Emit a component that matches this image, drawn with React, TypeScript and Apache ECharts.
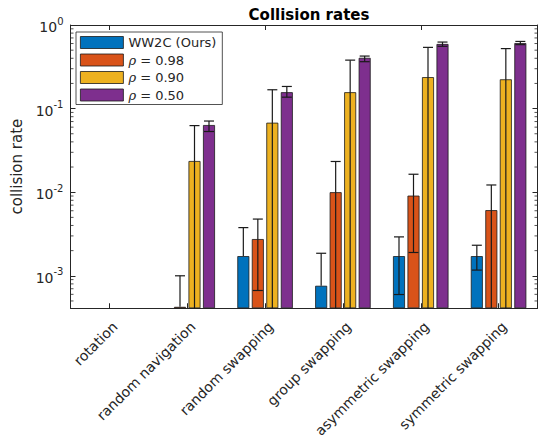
import React, { useEffect, useRef } from 'react';
import * as echarts from 'echarts';

// ---------- data ----------
const categories = [
  'rotation',
  'random navigation',
  'random swapping',
  'group swapping',
  'asymmetric swapping',
  'symmetric swapping',
];

const seriesNames = ['WW2C (Ours)', 'ρ = 0.98', 'ρ = 0.90', 'ρ = 0.50'];

// mean collision rates (null = no bar)
const ww2cMean = [null, null, 1.72e-3, 7.6e-4, 1.72e-3, 1.72e-3];
const rho98Mean = [null, 4.25e-4, 2.75e-3, 0.01, 9.1e-3, 6.1e-3];
const rho90Mean = [null, 0.0236, 0.0678, 0.157, 0.238, 0.224];
const rho50Mean = [null, 0.0636, 0.157, 0.405, 0.593, 0.608];

// error bar upper ends
const ww2cUpper = [null, null, 3.77e-3, 1.86e-3, 2.92e-3, 2.32e-3];
const rho98Upper = [null, 1.0e-3, 4.77e-3, 0.0233, 0.0164, 0.0122];
const rho90Upper = [null, 0.0626, 0.168, 0.38, 0.54, 0.522];
const rho50Upper = [null, 0.071, 0.184, 0.425, 0.625, 0.636];

// error bar lower ends (null = not drawn, values below the axis run off the bottom)
const ww2cLower = [null, null, null, null, 5.97e-4, 1.17e-3];
const rho98Lower = [null, null, 6.67e-4, 1e-4, 1.9e-3, 1e-4];
const rho90Lower = [null, 1e-4, 1e-4, 1e-4, 1e-4, 1e-4];
const rho50Lower = [null, 0.0532, 0.137, 0.364, 0.556, 0.582];

const yTickValues = [1e-3, 1e-2, 1e-1, 1];

// ---------- styling ----------
const COLORS = ['#0072BD', '#D95319', '#EDB120', '#7E2F8E'];
const AXIS_COLOR = '#262626';
const FONT = 'DejaVu Sans';
const Y_MIN = 4.09e-4;
const Y_MAX = 1;
const BAR_W = 12;
const BAR_GAP_PX = 2.5;
const CAP = 5;

const means = [ww2cMean, rho98Mean, rho90Mean, rho50Mean];
const uppers = [ww2cUpper, rho98Upper, rho90Upper, rho50Upper];
const lowers = [ww2cLower, rho98Lower, rho90Lower, rho50Lower];

function minorTicks(): number[] {
  const out: number[] = [];
  for (let k = -4; k <= -1; k++) {
    for (let m = 2; m <= 9; m++) {
      const v = m * Math.pow(10, k);
      if (v > Y_MIN && v < Y_MAX) out.push(v);
    }
  }
  return out;
}

export default function App() {
  const ref = useRef<HTMLDivElement>(null);

  useEffect(() => {
    document.body.style.margin = '0';
    if (!ref.current) return;
    const chart = echarts.init(ref.current, undefined, { renderer: 'svg' });

    const barSeries = seriesNames.map((name, s) => ({
      type: 'bar',
      name,
      xAxisIndex: 0,
      yAxisIndex: 0,
      barWidth: BAR_W,
      barGap: `${(BAR_GAP_PX / BAR_W) * 100}%`,
      data: means[s].map((v) => (v == null ? '-' : v)),
      itemStyle: { color: COLORS[s], borderColor: '#1a1a1a', borderWidth: 0.8 },
      z: 2,
    }));

    const errSeries = seriesNames.map((name, s) => {
      const data: any[] = [];
      categories.forEach((_, i) => {
        const m = means[s][i];
        const u = uppers[s][i];
        if (m == null || u == null) return;
        const l = lowers[s][i];
        data.push([i, u, m, l == null ? 0 : l]);
      });
      return {
        type: 'custom',
        name: name + ' err',
        xAxisIndex: 0,
        yAxisIndex: 0,
        silent: true,
        z: 5,
        encode: { x: 0, y: 1 },
        data,
        renderItem: (params: any, api: any) => {
          const c = api.value(0);
          const u = api.value(1);
          const m = api.value(2);
          const l = api.value(3);
          const cs = params.coordSys;
          const bottom = cs.y + cs.height;
          const offset = (s - 1.5) * (BAR_W + BAR_GAP_PX);
          const x = api.coord([c, m])[0] + offset;
          const yU = api.coord([c, u])[1];
          const yM = api.coord([c, m])[1];
          const children: any[] = [];
          const style = { stroke: '#1a1a1a', lineWidth: 1.2 };
          let yL = yM;
          let lowCap = false;
          if (l > 0) {
            if (l < Y_MIN) {
              yL = bottom;
            } else {
              yL = api.coord([c, l])[1];
              lowCap = true;
            }
          }
          children.push({ type: 'line', shape: { x1: x, y1: yL, x2: x, y2: yU }, style });
          children.push({ type: 'line', shape: { x1: x - CAP, y1: yU, x2: x + CAP, y2: yU }, style });
          if (lowCap) {
            children.push({ type: 'line', shape: { x1: x - CAP, y1: yL, x2: x + CAP, y2: yL }, style });
          }
          return { type: 'group', children };
        },
      };
    });

    const minorSeries = {
      type: 'custom',
      name: 'minor',
      xAxisIndex: 0,
      yAxisIndex: 0,
      silent: true,
      z: 6,
      encode: { x: 0, y: 1 },
      data: minorTicks().map((v) => [0, v]),
      renderItem: (params: any, api: any) => {
        const cs = params.coordSys;
        const y = api.coord([0, api.value(1)])[1];
        const style = { stroke: AXIS_COLOR, lineWidth: 0.8 };
        return {
          type: 'group',
          children: [
            { type: 'line', shape: { x1: cs.x, y1: y, x2: cs.x + 3, y2: y }, style },
            { type: 'line', shape: { x1: cs.x + cs.width - 3, y1: y, x2: cs.x + cs.width, y2: y }, style },
          ],
        };
      },
    };

    const catAxisBase = {
      type: 'category',
      data: categories,
      boundaryGap: true,
      axisLine: { show: true, lineStyle: { color: AXIS_COLOR, width: 1 } },
      axisTick: { show: true, inside: true, alignWithLabel: true, length: 5, lineStyle: { color: AXIS_COLOR } },
      splitLine: { show: false },
    };

    const logAxisBase = {
      type: 'log',
      logBase: 10,
      min: Y_MIN,
      max: Y_MAX,
      startValue: Y_MIN,
      axisLine: { show: true, lineStyle: { color: AXIS_COLOR, width: 1 } },
      axisTick: { show: true, inside: true, length: 5, lineStyle: { color: AXIS_COLOR } },
      splitLine: { show: false },
      minorTick: { show: false },
    };

    const option: any = {
      animation: false,
      backgroundColor: '#ffffff',
      title: {
        text: 'Collision rates',
        left: 304,
        textAlign: 'center',
        top: 2,
        textStyle: { fontFamily: FONT, fontSize: 15, fontWeight: 'bold', color: '#000' },
      },
      grid: { left: 70.5, top: 25, width: 467, height: 288, containLabel: false },
      legend: {
        data: seriesNames,
        orient: 'vertical',
        left: 76,
        top: 32,
        padding: [4, 6, 3, 4],
        itemGap: 4.5,
        itemWidth: 43,
        itemHeight: 12,
        icon: 'rect',
        selectedMode: false,
        backgroundColor: '#ffffff',
        borderColor: AXIS_COLOR,
        borderWidth: 0.8,
        itemStyle: { borderColor: '#1a1a1a', borderWidth: 0.8 },
        formatter: (name: string) =>
          name.startsWith('ρ') ? `{i|ρ}{t|${name.slice(1)}}` : `{t|${name}}`,
        textStyle: {
          fontFamily: FONT,
          fontSize: 13,
          color: AXIS_COLOR,
          rich: {
            t: { fontFamily: FONT, fontSize: 13, color: AXIS_COLOR, lineHeight: 13 },
            i: { fontFamily: 'DejaVu Serif', fontStyle: 'italic', fontSize: 13, color: AXIS_COLOR, lineHeight: 13 },
          },
        },
      },
      xAxis: [
        {
          ...catAxisBase,
          position: 'bottom',
          axisLabel: {
            show: true,
            interval: 0,
            rotate: 45,
            margin: 6,
            verticalAlign: 'top',
            lineHeight: 22,
            fontFamily: FONT,
            fontSize: 14,
            color: AXIS_COLOR,
            formatter: (v: string) => `{a|${v}}`,
            rich: {
              a: { fontFamily: FONT, fontSize: 14, color: AXIS_COLOR, lineHeight: 22, padding: [0, 3, 0, 0] },
            },
          },
        },
        {
          ...catAxisBase,
          position: 'top',
          axisLabel: { show: false },
        },
      ],
      yAxis: [
        {
          ...logAxisBase,
          position: 'left',
          name: 'collision rate',
          nameLocation: 'middle',
          nameGap: 40,
          nameRotate: 90,
          nameTextStyle: { fontFamily: FONT, fontSize: 15, color: AXIS_COLOR },
          axisLabel: {
            show: true,
            showMinLabel: false,
            margin: 7,
            formatter: (v: number) => {
              const e = Math.round(Math.log10(v));
              if (!yTickValues.some((t) => Math.abs(Math.log10(t) - Math.log10(v)) < 1e-6)) return '';
              return `{b|10}{s|${e}}`;
            },
            rich: {
              b: { fontFamily: FONT, fontSize: 14, color: AXIS_COLOR, verticalAlign: 'bottom' },
              s: { fontFamily: FONT, fontSize: 10, color: AXIS_COLOR, verticalAlign: 'bottom', padding: [0, 0, 8, 0] },
            },
          },
        },
        {
          ...logAxisBase,
          position: 'right',
          axisLabel: { show: false },
        },
      ],
      series: [...barSeries, ...errSeries, minorSeries],
    };

    chart.setOption(option);
    return () => chart.dispose();
  }, []);

  return <div ref={ref} style={{ width: 545, height: 443 }} />;
}
